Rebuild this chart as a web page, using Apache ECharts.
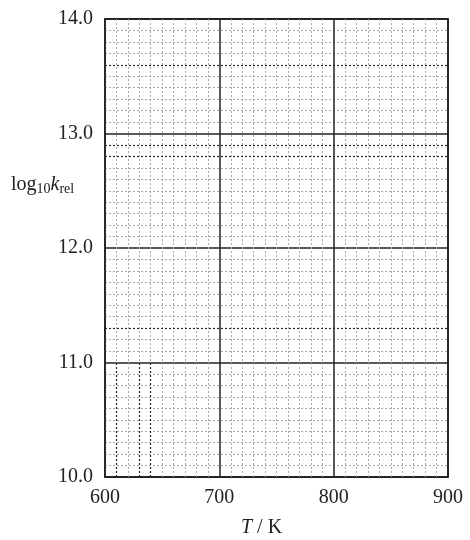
<!DOCTYPE html>
<html>
<head>
<meta charset="utf-8">
<script src="https://cdn.jsdelivr.net/npm/echarts@6/dist/echarts.min.js"></script>
<style>
  html, body { margin: 0; padding: 0; background: #fff; }
  #chart { width: 470px; height: 540px; }
</style>
</head>
<body>
<div id="chart"></div>
<script>
// Blank graph paper for plotting log10 k_rel against temperature
const tempTicks = [600, 700, 800, 900];          // T / K
const logKTicks = [10.0, 11.0, 12.0, 13.0, 14.0]; // log10 k_rel
const minorDivisions = 10;

// Rulings printed darker than the rest of the fine grid
const darkRows = [13.6, 12.9, 12.8, 11.3];        // log10 k_rel
const darkColumns = [610, 630, 640];              // T / K, drawn from 10.0 to 11.0
const darkColumnSpan = [10.0, 11.0];

const serif = '"Liberation Serif", "DejaVu Serif", serif';
const ink = '#222222';
const chart = echarts.init(document.getElementById('chart'), null, { renderer: 'canvas' });

const minorStyle = { color: '#a8a8a8', width: 1, type: [2, 2] };
const darkStyle = { color: '#262626', width: 1.2, type: [2, 2] };

const markLineData = [
  ...darkRows.map(v => ({ yAxis: v })),
  ...darkColumns.map(t => [
    { coord: [t, darkColumnSpan[0]] },
    { coord: [t, darkColumnSpan[1]] }
  ])
];

chart.setOption({
  animation: false,
  backgroundColor: '#ffffff',
  grid: {
    left: 105, right: 22, top: 19, bottom: 63,
    show: true, borderColor: '#2a2a2a', borderWidth: 1.8
  },
  xAxis: {
    type: 'value',
    min: tempTicks[0],
    max: tempTicks[tempTicks.length - 1],
    interval: tempTicks[1] - tempTicks[0],
    axisLine: { show: false },
    axisTick: { show: false },
    axisLabel: {
      color: ink, fontFamily: serif, fontSize: 20, margin: 11,
      formatter: v => String(v)
    },
    splitLine: { show: true, lineStyle: { color: ink, width: 1.5 } },
    minorTick: { show: false, splitNumber: minorDivisions },
    minorSplitLine: { show: true, lineStyle: minorStyle }
  },
  yAxis: {
    type: 'value',
    min: logKTicks[0],
    max: logKTicks[logKTicks.length - 1],
    interval: logKTicks[1] - logKTicks[0],
    axisLine: { show: false },
    axisTick: { show: false },
    axisLabel: {
      color: ink, fontFamily: serif, fontSize: 20, margin: 12,
      formatter: v => v.toFixed(1)
    },
    splitLine: { show: true, lineStyle: { color: ink, width: 1.5 } },
    minorTick: { show: false, splitNumber: minorDivisions },
    minorSplitLine: { show: true, lineStyle: minorStyle }
  },
  series: [{
    type: 'line',
    data: [],
    silent: true,
    markLine: {
      silent: true,
      symbol: 'none',
      label: { show: false },
      lineStyle: darkStyle,
      data: markLineData
    }
  }],
  graphic: [
    {
      type: 'text', left: 11, top: 175,
      style: {
        text: 'log{sub|10}{it|k}{sub|rel}',
        font: '20px ' + serif, fill: ink,
        rich: {
          sub: { fontFamily: serif, fontSize: 14, padding: [9, 0, 0, 0], fill: ink },
          it: { fontFamily: serif, fontSize: 20, fontStyle: 'italic', fill: ink }
        }
      }
    },
    {
      type: 'text', left: 241, top: 518,
      style: {
        text: '{it|T} / K',
        font: '20px ' + serif, fill: ink,
        rich: { it: { fontFamily: serif, fontSize: 20, fontStyle: 'italic', fill: ink } }
      }
    }
  ]
});
</script>
</body>
</html>
